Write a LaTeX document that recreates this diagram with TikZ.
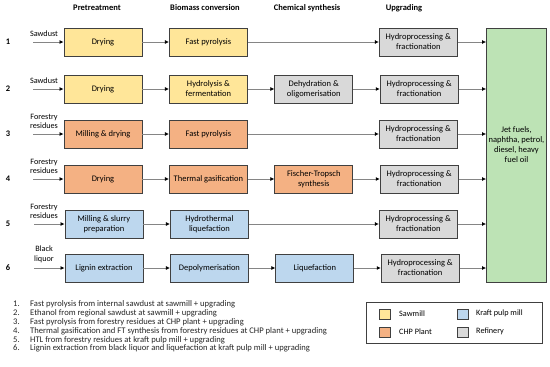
\documentclass[tikz,border=0pt]{standalone}
\usepackage{fontspec}
\setmainfont{Carlito}
\usetikzlibrary{arrows.meta,positioning}
\definecolor{sawmill}{HTML}{FFE699}
\definecolor{chp}{HTML}{F4B183}
\definecolor{kraft}{HTML}{BDD7EE}
\definecolor{refinery}{HTML}{D9D9D9}
\definecolor{fuel}{HTML}{BDE3B5}
\definecolor{ink}{HTML}{404040}
\definecolor{wire}{HTML}{858585}
\tikzset{
  >={Latex[length=4pt,width=4pt,color=black]},
  every node/.style={font=\fontsize{8.5}{10}\selectfont,text=black},
  box/.style={draw=ink,line width=0.9pt,minimum width=78pt,minimum height=28pt,align=center,inner sep=2pt},
  sawbox/.style={box,fill=sawmill},
  chpbox/.style={box,fill=chp},
  kraftbox/.style={box,fill=kraft},
  refbox/.style={box,fill=refinery},
  fuelbox/.style={box,fill=fuel,minimum width=60pt,minimum height=254pt},
  arrow/.style={->,draw=wire,line width=0.7pt},
  head/.style={font=\fontsize{8.5}{10}\selectfont\bfseries},
  num/.style={font=\fontsize{8.5}{10}\selectfont\bfseries},
  feed/.style={align=center,anchor=south,inner sep=1pt,font=\fontsize{8.2}{9.5}\selectfont},
  swatch/.style={draw=ink,line width=0.8pt,minimum width=11pt,minimum height=10pt,inner sep=0pt},
  key/.style={anchor=west,inner sep=0pt,font=\fontsize{8.2}{9.5}\selectfont},
}
\begin{document}
\begin{tikzpicture}[x=1pt,y=-1pt,node distance=26.5pt]
\useasboundingbox (0,0) rectangle (550,367);

% column heads
\node[head] (hpre) at (97,8) {Pretreatment};
\node[head] (hbio) at (205,8) {Biomass conversion};
\node[head] (hchem) at (307,8) {Chemical synthesis};
\node[head] (hup) at (404,8) {Upgrading};

% end product
\node[fuelbox] (fuel) at (516.5,155) {};
\node[align=center] (fueltext) at ([yshift=10pt]fuel.center) {Jet fuels,\\naphtha, petrol,\\diesel, heavy\\fuel oil};

% route 1
\node[num] (n1) at (8,42) {1};
\coordinate (s1) at (33,42);
\node[feed] (f1) at (44,38) {Sawdust};
\node[sawbox] (pre1) at (103,42) {Drying};
\node[sawbox,right=of pre1] (bio1) {Fast pyrolysis};
\node[refbox,right=131pt of bio1] (up1) {Hydroprocessing \&\\fractionation};
\draw[arrow] (s1) -- (pre1);
\draw[arrow] (pre1) -- (bio1);
\draw[arrow] (bio1) -- (up1);
\draw[arrow] (up1) -- (up1 -| fuel.west);

% route 2
\node[num] (n2) at (8,89) {2};
\coordinate (s2) at (33,89);
\node[feed] (f2) at (44,85) {Sawdust};
\node[sawbox] (pre2) at (103,89) {Drying};
\node[sawbox,right=of pre2] (bio2) {Hydrolysis \&\\fermentation};
\node[refbox,right=of bio2] (chem2) {Dehydration \&\\oligomerisation};
\node[refbox,right=of chem2] (up2) {Hydroprocessing \&\\fractionation};
\draw[arrow] (s2) -- (pre2);
\draw[arrow] (pre2) -- (bio2);
\draw[arrow] (bio2) -- (chem2);
\draw[arrow] (chem2) -- (up2);
\draw[arrow] (up2) -- (up2 -| fuel.west);

% route 3
\node[num] (n3) at (8,134) {3};
\coordinate (s3) at (33,134);
\node[feed] (f3) at (44,130) {Forestry\\residues};
\node[chpbox] (pre3) at (103,134) {Milling \& drying};
\node[chpbox,right=of pre3] (bio3) {Fast pyrolysis};
\node[refbox,right=131pt of bio3] (up3) {Hydroprocessing \&\\fractionation};
\draw[arrow] (s3) -- (pre3);
\draw[arrow] (pre3) -- (bio3);
\draw[arrow] (bio3) -- (up3);
\draw[arrow] (up3) -- (up3 -| fuel.west);

% route 4
\node[num] (n4) at (8,179) {4};
\coordinate (s4) at (33,179);
\node[feed] (f4) at (44,175) {Forestry\\residues};
\node[chpbox] (pre4) at (103,179) {Drying};
\node[chpbox,right=of pre4] (bio4) {Thermal gasification};
\node[chpbox,right=of bio4] (chem4) {Fischer-Tropsch\\synthesis};
\node[refbox,right=of chem4] (up4) {Hydroprocessing \&\\fractionation};
\draw[arrow] (s4) -- (pre4);
\draw[arrow] (pre4) -- (bio4);
\draw[arrow] (bio4) -- (chem4);
\draw[arrow] (chem4) -- (up4);
\draw[arrow] (up4) -- (up4 -| fuel.west);

% route 5
\node[num] (n5) at (8,224) {5};
\coordinate (s5) at (34,224);
\node[feed] (f5) at (44,220) {Forestry\\residues};
\node[kraftbox] (pre5) at (104,224) {Milling \& slurry\\preparation};
\node[kraftbox,right=of pre5] (bio5) {Hydrothermal\\liquefaction};
\node[refbox,right=130pt of bio5] (up5) {Hydroprocessing \&\\fractionation};
\draw[arrow] (s5) -- (pre5);
\draw[arrow] (pre5) -- (bio5);
\draw[arrow] (bio5) -- (up5);
\draw[arrow] (up5) -- (up5 -| fuel.west);

% route 6
\node[num] (n6) at (8,268) {6};
\coordinate (s6) at (34,268);
\node[feed] (f6) at (44,264) {Black\\liquor};
\node[kraftbox] (pre6) at (104,268) {Lignin extraction};
\node[kraftbox,right=of pre6] (bio6) {Depolymerisation};
\node[kraftbox,right=of bio6] (chem6) {Liquefaction};
\node[refbox,right=of chem6] (up6) {Hydroprocessing \&\\fractionation};
\draw[arrow] (s6) -- (pre6);
\draw[arrow] (pre6) -- (bio6);
\draw[arrow] (bio6) -- (chem6);
\draw[arrow] (chem6) -- (up6);
\draw[arrow] (up6) -- (up6 -| fuel.west);

% route list
\node[anchor=north west,inner sep=0pt,text=black!85] (routes) at (13,300) {\fontsize{8.6}{8.9}\selectfont
\begin{tabular}{@{}p{17pt}@{}l@{}}
1. & Fast pyrolysis from internal sawdust at sawmill + upgrading\\
2. & Ethanol from regional sawdust at sawmill + upgrading\\
3. & Fast pyrolysis from forestry residues at CHP plant + upgrading\\
4. & Thermal gasification and FT synthesis from forestry residues at CHP plant + upgrading\\
5. & HTL from forestry residues at kraft pulp mill + upgrading\\
6. & Lignin extraction from black liquor and liquefaction at kraft pulp mill + upgrading
\end{tabular}};

% legend
\node[draw=ink,line width=0.8pt,minimum width=176pt,minimum height=41pt,inner sep=0pt] (legend) at (454,322.5) {};
\node[swatch,fill=sawmill] (ksaw) at (384.5,314) {};
\node[key] (tsaw) at (399,314) {Sawmill};
\node[swatch,fill=chp] (kchp) at (384.5,332) {};
\node[key] (tchp) at (399,332) {CHP Plant};
\node[swatch,fill=kraft] (kkraft) at (462.5,314) {};
\node[key] (tkraft) at (476,313) {Kraft pulp mill};
\node[swatch,fill=refinery] (kref) at (462.5,332) {};
\node[key] (tref) at (476,331) {Refinery};

\end{tikzpicture}
\end{document}
